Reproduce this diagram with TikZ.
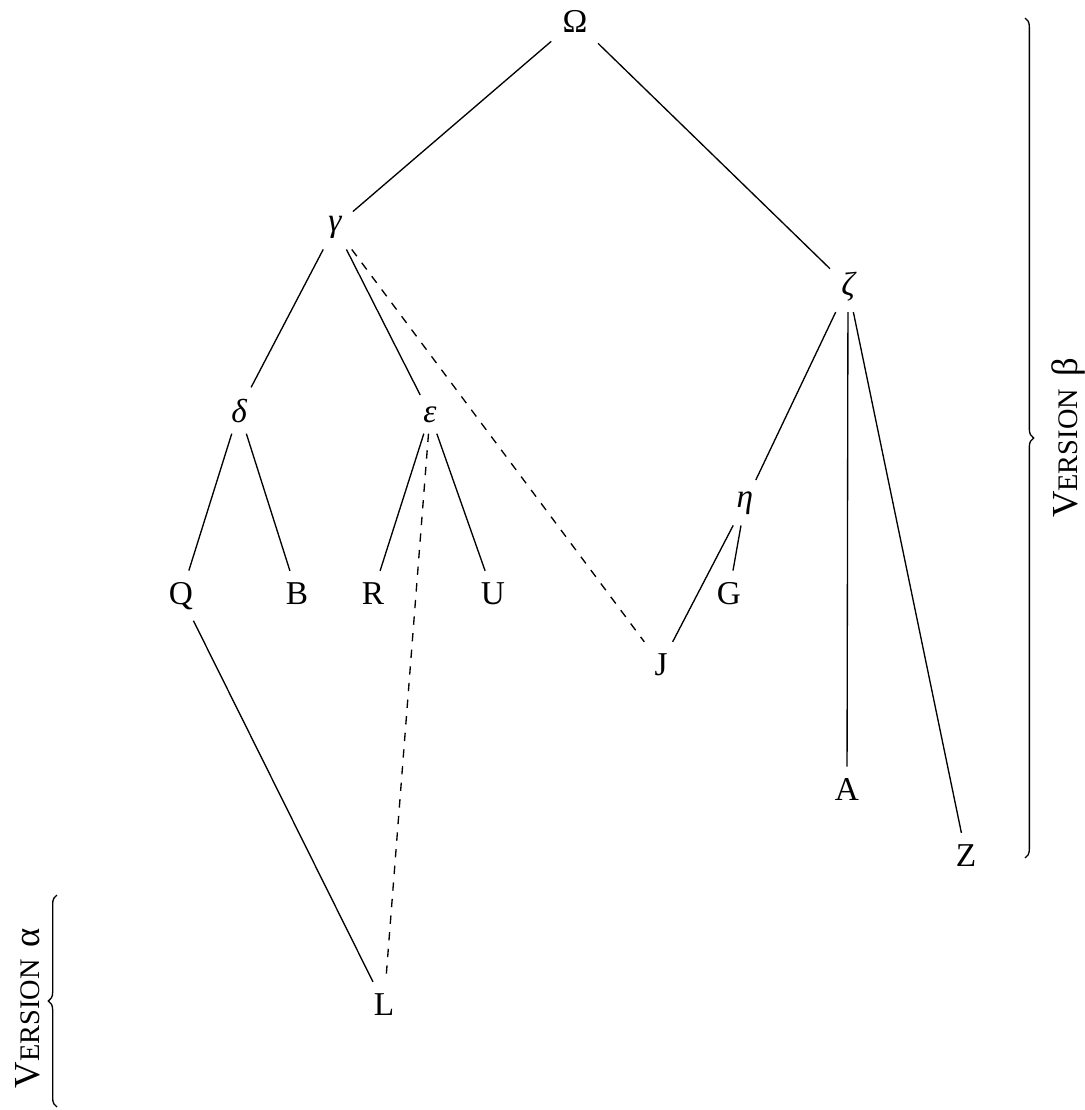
\documentclass[tikz,border=0pt]{standalone}
\usepackage{fontspec}
\setmainfont{Liberation Serif}
\usetikzlibrary{decorations.pathreplacing}
\newcommand\versionlabel[1]{V{\fontsize{8.5}{10}\selectfont ERSION}\,\,#1}
\begin{document}
\begin{tikzpicture}[x=0.3pt,y=-0.3pt,
  wit/.style={font=\fontsize{10}{12}\selectfont, inner sep=3.2pt, anchor=base},
  hyp/.style={wit, font=\fontsize{10}{12}\selectfont\itshape},
  lost/.style={dash pattern=on 2.5pt off 2.5pt},
  conn/.style={line width=0.4pt},
  bracedeco/.style={decorate, decoration={brace, amplitude=2.6pt}, line width=0.4pt},
  vlabel/.style={font=\fontsize{11}{13}\selectfont, rotate=90, inner sep=0pt}]
\useasboundingbox (0,0) rectangle (1084,1110);
% nodes (positioned at baseline)
\node[wit] (Om) at (575,32) {Ω};
\node[hyp] (ga) at (335,231) {γ};
\node[hyp] (ze) at (848,295) {ζ};
\node[hyp] (de) at (239,422) {δ};
\node[hyp] (ep) at (430,422) {ε};
\node[hyp] (et) at (745,507) {η};
\node[wit] (Q) at (181,604) {Q};
\node[wit] (B) at (297,604) {B};
\node[wit] (R) at (373,604) {R};
\node[wit] (U) at (493,604) {U};
\node[wit] (G) at (729,604) {G};
\node[wit] (J) at (661,675) {J};
\node[wit] (A) at (847,800) {A};
\node[wit] (Z) at (966,866) {Z};
\node[wit] (L) at (384,1015) {L};
% connectors
\draw[conn] (Om) -- (ga);
\draw[conn] (Om) -- (ze);
\draw[conn] (ga) -- (de);
\draw[conn] (ga) -- (ep);
\draw[conn,lost] (ga) -- (J);
\draw[conn] (de) -- (Q);
\draw[conn] (de) -- (B);
\draw[conn] (ep) -- (R);
\draw[conn] (ep) -- (U);
\draw[conn,lost] (ep) -- (L);
\draw[conn] (Q) -- (L);
\draw[conn] (ze) -- (et);
\draw[conn] (ze) -- (A);
\draw[conn] (ze) -- (Z);
\draw[conn] (et) -- (G);
\draw[conn] (et) -- (J);
% braces
\coordinate (bbtop) at (1025,18);
\coordinate (bbbot) at (1025,858);
\coordinate (batop) at (57,895);
\coordinate (babot) at (57,1107);
\draw[bracedeco] (bbtop) -- (bbbot);
\draw[bracedeco] (babot) -- (batop);
\node[vlabel] (vb) at (1068,438) {\versionlabel{β}};
\node[vlabel] (va) at (28,1008) {\versionlabel{α}};
\end{tikzpicture}
\end{document}
